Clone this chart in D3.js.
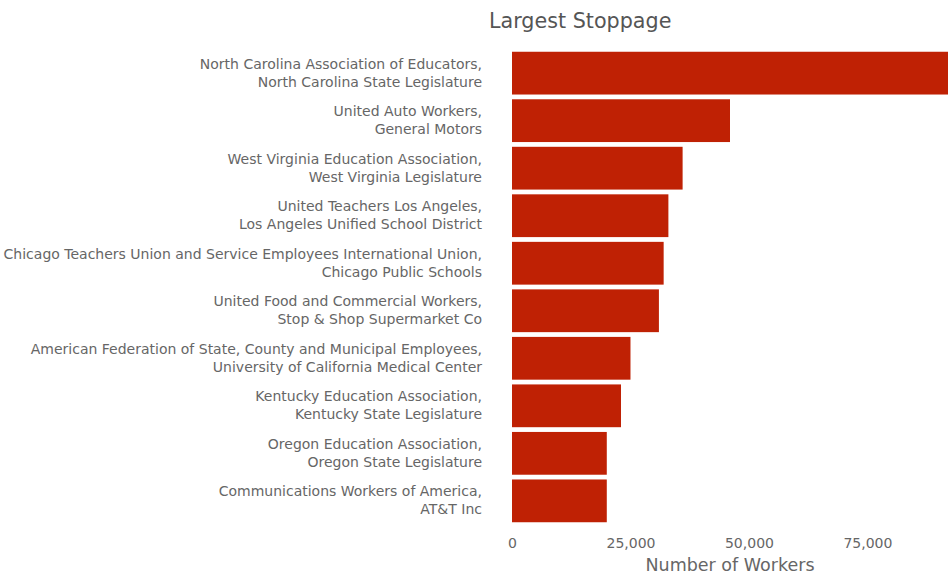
<!DOCTYPE html>
<html>
  <head>
    <meta charset="utf-8">
    <title>Largest Stoppage</title>
    <style>
      html, body { margin: 0; padding: 0; background: #fff; }
      text { font-family: "DejaVu Sans", sans-serif; }
    </style>
  </head>
  <body>
    <script src="https://cdn.jsdelivr.net/npm/d3@7"></script>
    <div id="chart"></div>
    <script>
      // union on line 1, employer on line 2
      var unions = ['North Carolina Association of Educators,', 'United Auto Workers,',
                    'West Virginia Education Association,', 'United Teachers Los Angeles,',
                    'Chicago Teachers Union and Service Employees International Union,',
                    'United Food and Commercial Workers,',
                    'American Federation of State, County and Municipal Employees,',
                    'Kentucky Education Association,', 'Oregon Education Association,',
                    'Communications Workers of America,']
      var employers = ['North Carolina State Legislature', 'General Motors',
                       'West Virginia Legislature', 'Los Angeles Unified School District',
                       'Chicago Public Schools', 'Stop & Shop Supermarket Co',
                       'University of California Medical Center', 'Kentucky State Legislature',
                       'Oregon State Legislature', 'AT&T Inc']
      var workers = [92000, 46000, 36000, 33000, 32000, 31000, 25000, 23000, 20000, 20000]
      var ticks = [0, 25000, 50000, 75000]

      var width = 948, height = 576
      // plot area (note: "top" is taken by window.top)
      var plotLeft = 512, plotRight = 948, plotTop = 47, plotBottom = 527

      var svg = d3.select('#chart').append('svg')
        .attr('width', width)
        .attr('height', height)

      var x = d3.scaleLinear()
        .domain([0, d3.max(workers)])
        .range([plotLeft, plotRight])

      var y = d3.scaleBand()
        .domain(d3.range(workers.length))
        .range([plotTop, plotBottom])
        .padding(0.1)

      // title
      svg.append('text')
        .attr('x', 489)
        .attr('y', 28)
        .style('font-size', '20.7px')
        .style('fill', '#555')
        .text('Largest Stoppage')

      // bars
      svg.append('g').selectAll('rect')
        .data(workers)
        .enter()
        .append('rect')
        .attr('x', x(0))
        .attr('y', function(d, i) { return y(i) })
        .attr('width', function(d) { return x(d) - x(0) })
        .attr('height', y.bandwidth())
        .attr('fill', '#bf2104')

      // category labels, two lines each
      var labels = svg.append('g').selectAll('text')
        .data(d3.range(workers.length))
        .enter()
        .append('text')
        .attr('text-anchor', 'end')
        .style('font-size', '14px')
        .style('fill', '#666')

      labels.append('tspan')
        .attr('x', 482)
        .attr('y', function(i) { return y(i) + y.bandwidth() / 2 - 4.5 })
        .text(function(i) { return unions[i] })

      labels.append('tspan')
        .attr('x', 482)
        .attr('y', function(i) { return y(i) + y.bandwidth() / 2 + 13.5 })
        .text(function(i) { return employers[i] })

      // x axis
      var xAxis = svg.append('g')
        .attr('transform', 'translate(0,' + (plotBottom + 8) + ')')
        .call(d3.axisBottom(x).tickValues(ticks).tickSize(0).tickFormat(d3.format(',')))
      xAxis.select('.domain').remove()
      xAxis.selectAll('text')
        .style('font-size', '14px')
        .style('fill', '#666')
        .style('font-family', '"DejaVu Sans", sans-serif')

      svg.append('text')
        .attr('x', (plotLeft + plotRight) / 2)
        .attr('y', 571)
        .attr('text-anchor', 'middle')
        .style('font-size', '17.5px')
        .style('fill', '#666')
        .text('Number of Workers')
    </script>
  </body>
</html>
